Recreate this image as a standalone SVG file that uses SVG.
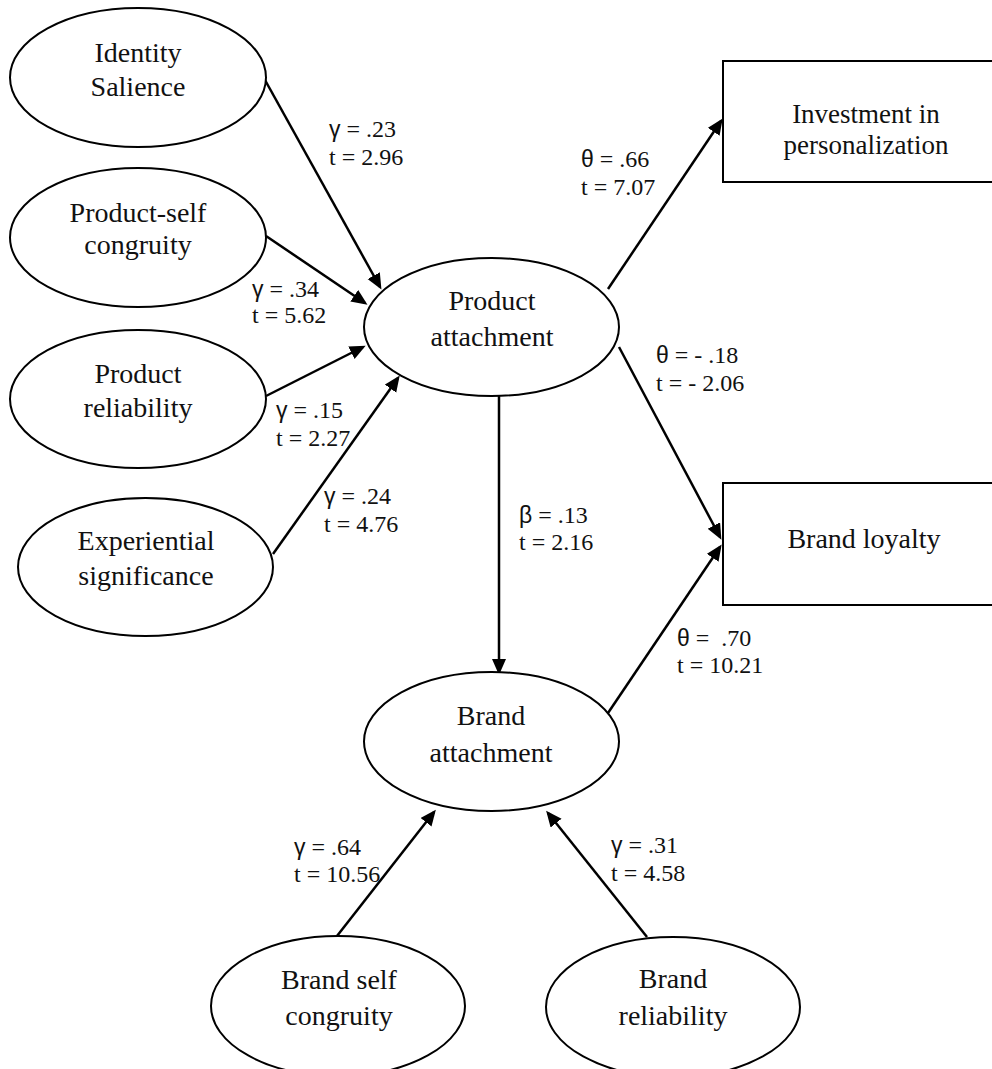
<svg xmlns="http://www.w3.org/2000/svg" width="992" height="1069" viewBox="0 0 992 1069">
<style>
.node ellipse,.node rect{fill:#fff;stroke:#000;stroke-width:2}
.node text{font-family:"Liberation Serif","Times New Roman",serif;font-size:28px;text-anchor:middle;fill:#111}
.node text.s{font-size:27px}
.edges line{stroke:#000;stroke-width:2.5;marker-end:url(#ah)}
.lbl text{font-family:"Liberation Serif","Times New Roman",serif;font-size:24px;fill:#111}
.g{font-family:"Liberation Sans","DejaVu Sans",sans-serif;font-size:23px}
</style>
<defs>
<marker id="ah" markerUnits="userSpaceOnUse" markerWidth="17" markerHeight="16" refX="13" refY="7" orient="auto">
<path d="M0,0 L16,7 L0,14 z" fill="#000"/>
</marker>
</defs>
<rect width="992" height="1069" fill="#fff"/>
<g class="edges">
<line x1="265" y1="80" x2="380" y2="287"/>
<line x1="266" y1="236" x2="365" y2="303"/>
<line x1="266" y1="396" x2="363" y2="347"/>
<line x1="273" y1="554" x2="398" y2="378"/>
<line x1="608" y1="289" x2="721" y2="121"/>
<line x1="619" y1="347" x2="720" y2="537"/>
<line x1="608" y1="713" x2="720" y2="547"/>
<line x1="499" y1="396" x2="499" y2="672"/>
<line x1="337" y1="936" x2="434" y2="812"/>
<line x1="647" y1="937" x2="548" y2="813"/>
</g>
<g class="node" id="identity-salience"><ellipse cx="138" cy="77.5" rx="128" ry="69.5"/><text x="138" y="62">Identity</text><text x="138" y="96">Salience</text></g>
<g class="node" id="product-self-congruity"><ellipse cx="138" cy="237.5" rx="128" ry="69.5"/><text x="138" y="222">Product-self</text><text x="138" y="254">congruity</text></g>
<g class="node" id="product-reliability"><ellipse cx="138" cy="399" rx="128" ry="69"/><text x="138" y="383">Product</text><text x="138" y="417">reliability</text></g>
<g class="node" id="experiential-significance"><ellipse cx="145.5" cy="567" rx="127.5" ry="69"/><text x="146" y="550">Experiential</text><text x="146" y="585">significance</text></g>
<g class="node" id="product-attachment"><ellipse cx="491.5" cy="327" rx="127.5" ry="69"/><text x="492" y="310">Product</text><text x="492" y="346">attachment</text></g>
<g class="node" id="brand-attachment"><ellipse cx="491.5" cy="741.5" rx="127.5" ry="69.5"/><text x="491" y="725">Brand</text><text x="491" y="762">attachment</text></g>
<g class="node" id="brand-self-congruity"><ellipse cx="338" cy="1006" rx="127" ry="70"/><text x="339" y="989">Brand self</text><text x="339" y="1025">congruity</text></g>
<g class="node" id="brand-reliability"><ellipse cx="673" cy="1007" rx="127" ry="70"/><text x="673" y="988">Brand</text><text x="673" y="1025">reliability</text></g>
<g class="node" id="investment-in-personalization"><rect x="723" y="61" width="290" height="121"/><text class="s" x="866" y="123">Investment in</text><text class="s" x="866" y="154">personalization</text></g>
<g class="node" id="brand-loyalty"><rect x="723" y="483" width="290" height="122"/><text x="864" y="548">Brand loyalty</text></g>
<g class="lbl">
<text x="329" y="137"><tspan class="g">γ</tspan> = .23</text><text x="329" y="165">t = 2.96</text>
<text x="252" y="297"><tspan class="g">γ</tspan> = .34</text><text x="252" y="323">t = 5.62</text>
<text x="276" y="418"><tspan class="g">γ</tspan> = .15</text><text x="276" y="446">t = 2.27</text>
<text x="324" y="504"><tspan class="g">γ</tspan> = .24</text><text x="324" y="532">t = 4.76</text>
<text x="581" y="167"><tspan class="g">θ</tspan> = .66</text><text x="581" y="195">t = 7.07</text>
<text x="656" y="363"><tspan class="g">θ</tspan> = - .18</text><text x="656" y="391">t = - 2.06</text>
<text x="519" y="523"><tspan class="g">β</tspan> = .13</text><text x="519" y="550">t = 2.16</text>
<text x="677" y="646"><tspan class="g">θ</tspan> =&#160; .70</text><text x="677" y="673">t = 10.21</text>
<text x="294" y="855"><tspan class="g">γ</tspan> = .64</text><text x="294" y="882">t = 10.56</text>
<text x="611" y="853"><tspan class="g">γ</tspan> = .31</text><text x="611" y="881">t = 4.58</text>
</g>
</svg>
